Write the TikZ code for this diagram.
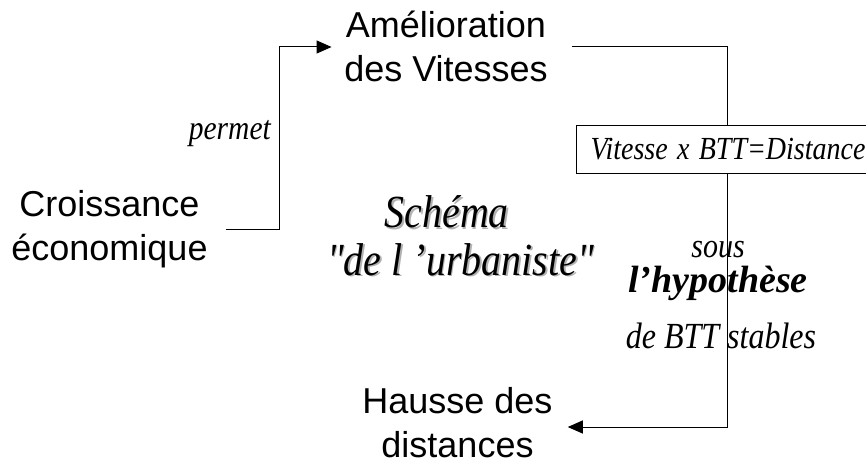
\documentclass[tikz,border=0pt]{standalone}
\usepackage{graphicx}
\usepackage{fontspec}
\setmainfont{Liberation Serif}[Ligatures=TeXOff]
\newfontfamily\arialf{Liberation Sans}
\usetikzlibrary{arrows.meta,calc}
\newcommand{\tallsrf}[1]{\scalebox{1}[1.15]{#1}}
\tikzset{
  sans/.style={font=\arialf\fontsize{36}{44}\selectfont, align=center, inner sep=0pt},
  conn/.style={line width=1pt, draw=black},
  arr/.style={conn, -{Triangle[length=15pt,width=13pt]}},
  ital/.style={font=\itshape\fontsize{#1}{#1}\selectfont, inner sep=0pt},
  schema/.style={font=\itshape\fontsize{40}{40}\selectfont, inner sep=0pt, anchor=base},
  shadow/.style={schema, text=black!30},
}
\begin{document}
\begin{tikzpicture}[x=1pt,y=-1pt]
\useasboundingbox (0,0) rectangle (866,468);
% main nodes
\node[sans, anchor=base] (amel) at (446,82) {Amélioration\\des Vitesses};
\node[sans, anchor=base] (cro) at (109.5,260) {Croissance\\économique};
\node[sans, anchor=base] (hau) at (457.5,457) {Hausse des\\distances};
\node[ital=28, draw, line width=1pt, anchor=north west, minimum height=48, text width=290,
      inner xsep=14, inner ysep=0, align=left] (eq) at (576,125)
      {\tallsrf{Vitesse x BTT=Distance}};
% bends
\coordinate (b1) at (279,229);
\coordinate (b2) at (279,47);
\coordinate (b3) at (727,47);
\coordinate (b4) at (727,427);
% connectors
\draw[arr] ($(cro.east |- b1)+(18,0)$) -- (b1) -- (b2) -- ($(amel.west |- b2)+(-12.5,0)$);
\draw[conn] ($(amel.east |- b3)+(24,0)$) -- (b3) -- (eq.north -| b3);
\draw[arr] (eq.south -| b3) -- (b4) -- ($(hau.east |- b4)+(15,0)$);
% labels
\node[ital=29.5, anchor=base east] (permet) at (271,139) {\tallsrf{permet}};
\node[ital=30, anchor=base] (sous) at (718,257) {\tallsrf{sous}};
\node[font=\bfseries\itshape\fontsize{38}{38}\selectfont, inner sep=0pt, anchor=base] (hyp) at (718,292) {l’hypothèse};
\node[ital=32, anchor=base] (btt) at (721,348) {\tallsrf{de BTT stables}};
% central title with shadow
\node[shadow] at (448.5,229.5) {\tallsrf{Schéma}};
\node[schema] (sch1) at (446.7,227.7) {\tallsrf{Schéma}};
\node[shadow] at (462.3,276.8) {\tallsrf{"de l ’urbaniste"}};
\node[schema] (sch2) at (460.5,275) {\tallsrf{"de l ’urbaniste"}};
\end{tikzpicture}
\end{document}
